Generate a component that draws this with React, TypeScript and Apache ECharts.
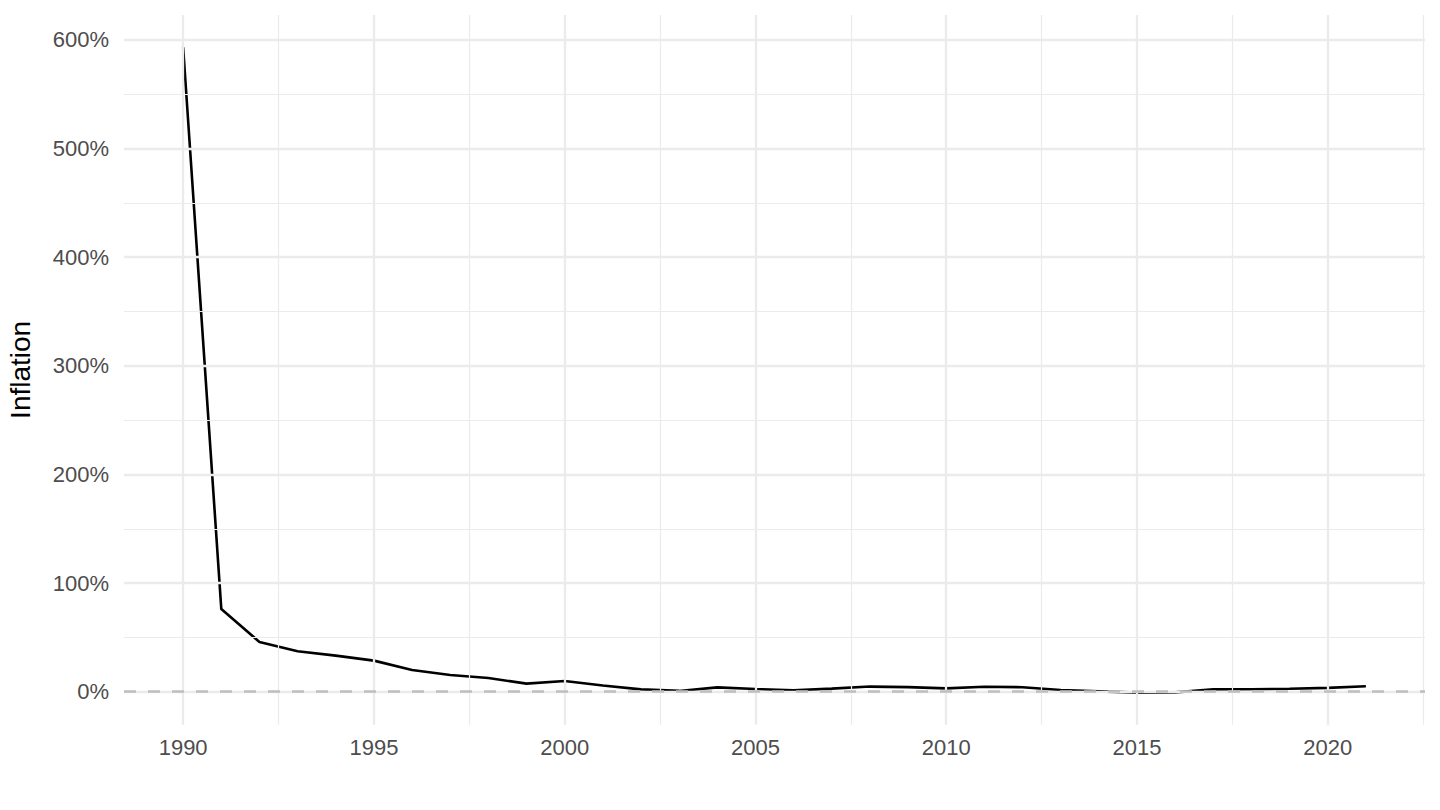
import React, { useEffect, useRef } from "react";
import * as echarts from "echarts";

const years: number[] = [
  1990, 1991, 1992, 1993, 1994, 1995, 1996, 1997, 1998, 1999, 2000, 2001,
  2002, 2003, 2004, 2005, 2006, 2007, 2008, 2009, 2010, 2011, 2012, 2013,
  2014, 2015, 2016, 2017, 2018, 2019, 2020, 2021,
];
const inflation: number[] = [
  593.3, 76.2, 45.8, 37.2, 33.2, 28.6, 20.0, 15.4, 12.6, 7.4, 9.9, 5.7,
  2.1, 0.7, 4.0, 2.5, 1.2, 2.8, 4.7, 4.2, 3.0, 4.6, 4.1, 1.5,
  0.3, -0.9, -0.6, 2.1, 2.3, 2.7, 3.5, 5.0,
];
const xTicks: number[] = [1990, 1995, 2000, 2005, 2010, 2015, 2020];
const xMinor: number[] = [1992.5, 1997.5, 2002.5, 2007.5, 2012.5, 2017.5, 2022.5];
const yTicks: number[] = [0, 100, 200, 300, 400, 500, 600];
const yMinor: number[] = [50, 150, 250, 350, 450, 550];

const X_MIN = 1988.45;
const X_MAX = 2022.55;
const Y_MIN = -30.4;
const Y_MAX = 623;

const GRID = "#ebebeb";
const FONT = "'Liberation Sans', Arial, sans-serif";

export default function App() {
  const ref = useRef<HTMLDivElement>(null);
  useEffect(() => {
    if (!ref.current) return;
    const chart = echarts.init(ref.current, null, { renderer: "svg" });
    const gridLines = [
      ...xMinor.map((v) => ({ xAxis: v, lineStyle: { color: GRID, width: 1.2, type: "solid" } })),
      ...yMinor.map((v) => ({ yAxis: v, lineStyle: { color: GRID, width: 1.2, type: "solid" } })),
      ...xTicks.map((v) => ({ xAxis: v, lineStyle: { color: GRID, width: 2.3, type: "solid" } })),
      ...yTicks.map((v) => ({ yAxis: v, lineStyle: { color: GRID, width: 2.3, type: "solid" } })),
    ];
    chart.setOption({
      animation: false,
      backgroundColor: "#ffffff",
      grid: {
        left: 124,
        right: 15,
        top: 15,
        bottom: 85.3,
        containLabel: false,
        outerBoundsMode: "none",
      },
      xAxis: {
        type: "value",
        min: X_MIN,
        max: X_MAX,
        axisLine: { show: false },
        axisTick: { show: false },
        splitLine: { show: false },
        axisLabel: {
          customValues: xTicks,
          formatter: (v: number) => String(v),
          color: "#4d4d4d",
          fontSize: 22,
          fontFamily: FONT,
          margin: 12,
        },
      },
      yAxis: {
        type: "value",
        min: Y_MIN,
        max: Y_MAX,
        name: "Inflation",
        nameLocation: "middle",
        nameGap: 90,
        nameRotate: 90,
        nameTextStyle: { color: "#000000", fontSize: 28, fontFamily: FONT },
        axisLine: { show: false },
        axisTick: { show: false },
        splitLine: { show: false },
        axisLabel: {
          customValues: yTicks,
          formatter: (v: number) => `${v}%`,
          color: "#4d4d4d",
          fontSize: 22,
          fontFamily: FONT,
          margin: 15,
        },
      },
      series: [
        {
          type: "line",
          data: [],
          z: 1,
          silent: true,
          markLine: {
            silent: true,
            symbol: ["none", "none"],
            label: { show: false },
            emphasis: { disabled: true },
            data: gridLines,
          },
        },
        {
          type: "line",
          data: years.map((y, i) => [y, inflation[i]]),
          showSymbol: false,
          symbol: "none",
          z: 3,
          lineStyle: { color: "#000000", width: 2.6 },
        },
        {
          type: "line",
          data: [],
          z: 5,
          silent: true,
          markLine: {
            silent: true,
            symbol: ["none", "none"],
            label: { show: false },
            emphasis: { disabled: true },
            data: [
              {
                yAxis: 0,
                lineStyle: { color: "#bebebe", width: 2.6, type: [12, 12] },
              },
            ],
          },
        },
      ],
    });
    return () => chart.dispose();
  }, []);
  return (
    <div
      ref={ref}
      style={{ width: 1440, height: 810, position: "absolute", left: 0, top: 0 }}
    />
  );
}
